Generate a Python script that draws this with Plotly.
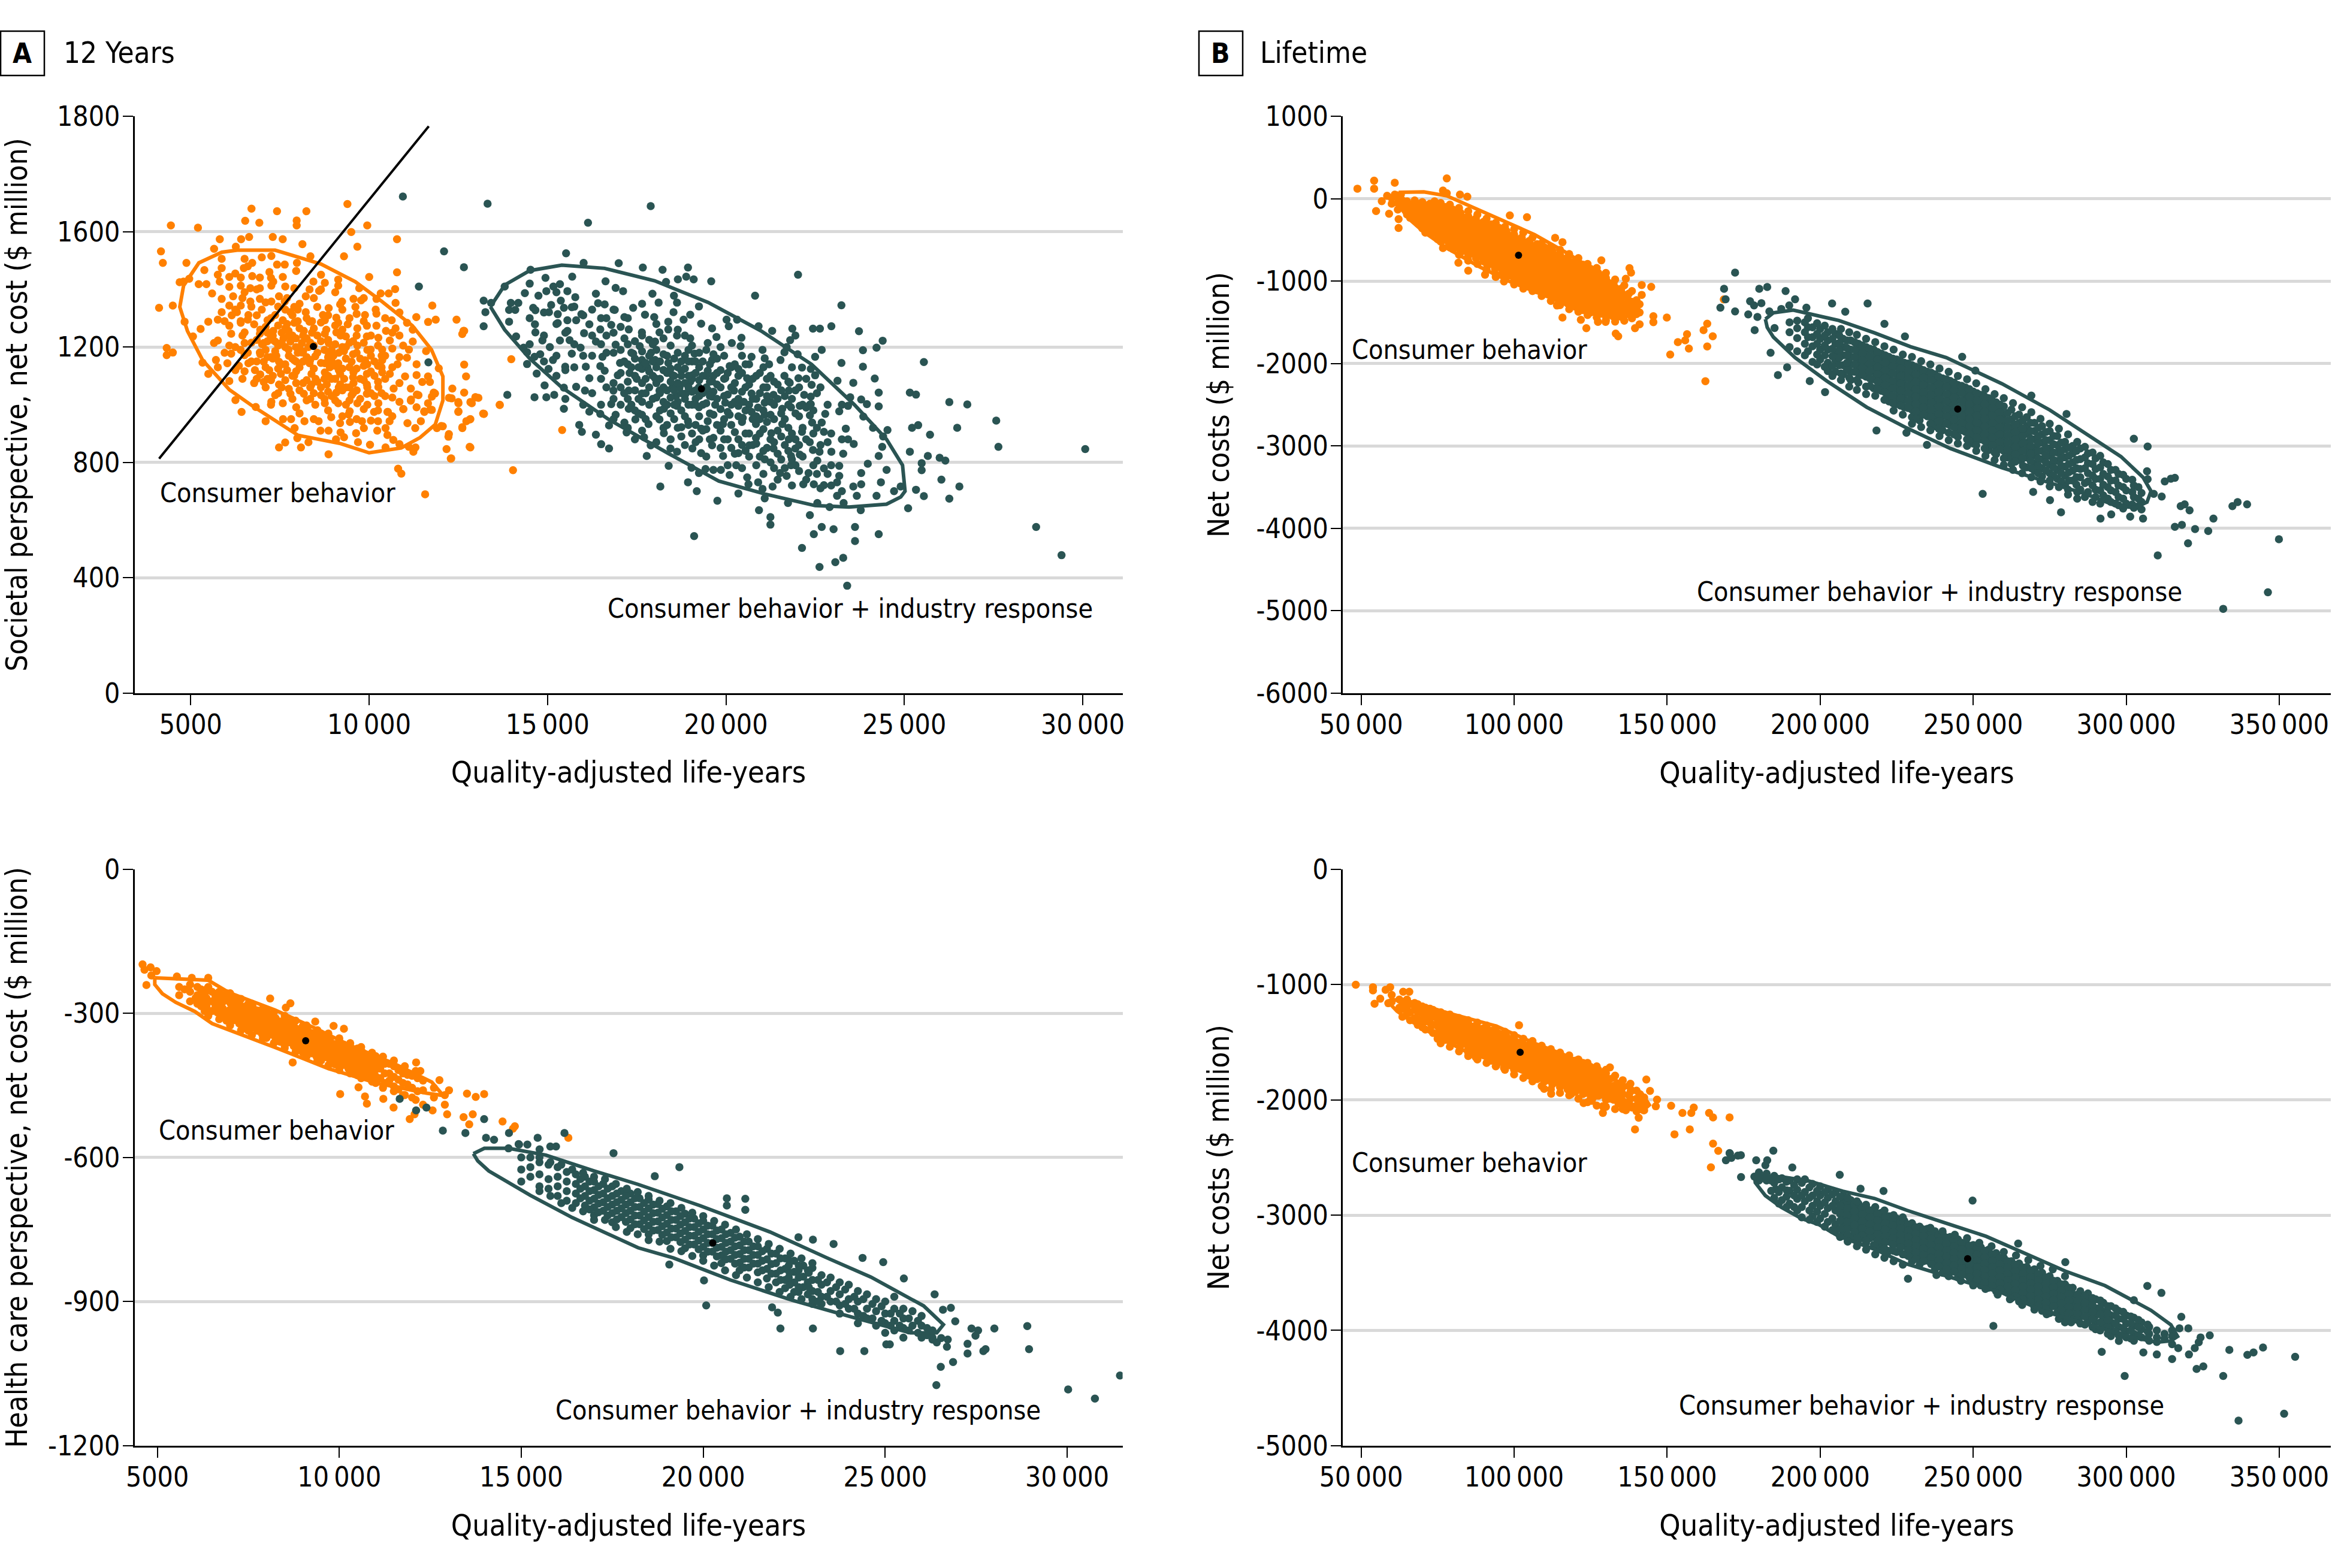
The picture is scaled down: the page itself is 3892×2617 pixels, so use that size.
import plotly.graph_objects as go

# Each row is (x, y1, y2, ...): one QALY value and the
# cost values of the dots above it.
ORANGE = "#FF8000"
TEAL = "#2A5453"

# panel A top, societal perspective (the axis labels run 1600 -> 1800, drawn as printed)
a_top_orange = [
    (4444,1622),(5203,1614),(4166,1532),(4219,1492),(4113,1336),(4498,1344),(4327,1197),(4498,1181),(4327,1172),
    (6703,1680),(7419,1671),(8242,1671),(6527,1638),(6923,1631),(7970,1639),(7970,1622),(9392,1696),(9948,1622),
    (9499,1599),(10782,1574),(9670,1548),(9296,1515),(8131,1557),(8355,1515),(5815,1574),(6413,1574),(6637,1582),
    (7300,1582),(7578,1574),(5655,1541),(6264,1548),(10782,1459),(10002,1443),(4880,1492),(5382,1467),(10729,1401),
    (10548,1386),(10324,1386),(11771,1344),(11323,1304),(11867,1295),(11654,1287),(12450,1295),(12664,1256),
    (12611,1245),(12664,1139),(12717,1098),(12332,1056),(12664,1042),(12985,1026),(12504,1005),(12878,1005),
    (13220,968),(13659,1000),(12504,977),(12825,949),(12611,922),(12022,926),(12236,898),
    (12645,1256),(13984,1158),(15410,912),(14033,773),(12976,1026),(13197,969),(12817,854),(12300,814),
    (6425,975),(6253,1016),(7100,943),(7588,950),(7813,950),(6823,992),(7475,852),(7648,869),(8090,852),(8300,870),
    (7988,884),(7913,919),(8188,943),(8585,943),(8638,910),(8863,828),(9073,880),(8863,910),(8938,957),(9298,887),
    (9200,904),(9185,936),(9463,940),(9635,901),(9688,870),(10025,861),(9853,919),(9800,943),(10228,910),(10460,919),
    (10513,895),(10678,878),(10460,852),(10850,863),(11113,854),(11240,837),(11300,852),(10813,778),(10903,761),
    (11570,689),(12290,813),(12170,846),(12838,852),(12223,889),(12065,925),(11900,919),(12613,919),(11293,919),
    (11075,936),(11450,943),(10963,985),(10573,943),(10513,975),(11548,975),(11713,983),(12500,975),(12725,943),
    (12838,950),(13213,968),(13663,999),(13063,1024),(12838,1009),(12500,1009),(12313,1022),(11848,1039),(11173,1018),
    (11338,1035),(9425,966),(10138,975),(10250,943),
    (5868,1506),(6510,1506),(6724,1492),(6992,1511),(7260,1516),(7420,1486),(7635,1486),(7977,1492),(7956,1464),
    (6489,1474),(5868,1474),(5760,1451),(6082,1443),(5814,1427),(6403,1441),(6724,1446),(6938,1441),(7206,1460),
    (7581,1443),(7313,1427),(8652,1451),(9134,1434),(8759,1423),(8438,1427),(9134,1413),(4797,1427),(4958,1437),
    (5225,1418),(5439,1418),(4690,1425),(6082,1409),(6403,1413),(6938,1404),(7260,1413),(5600,1386),(5868,1367),
    (6189,1376),(6510,1390),(6671,1404),(7474,1376),(7902,1404),(8224,1376),(8599,1395),(8331,1400),(9723,1404),
    (9562,1367),(9777,1362),(10205,1367),(9241,1358),(10741,1353),(6082,1344),(6403,1344),(6671,1358),(6938,1367),
    (7260,1358),(7635,1358),(7902,1339),(8545,1339),(8867,1335),(9188,1348),(9616,1339),(10184,1330),(5868,1321),
    (6296,1321),(6617,1311),(6992,1330),(7367,1311),(7795,1321),(8224,1321),(8706,1311),(9081,1302),(9884,1311),
    (10205,1316),(10633,1293),(11062,1284),(11223,1260),(5493,1288),(5760,1295),(4829,1288),(5278,1263),(5064,1237),
    (5653,1214),(5760,1223),(6082,1274),(6403,1284),(6778,1279),(7153,1293),(7581,1293),(7902,1284),(8331,1288),
    (8759,1293),(9134,1284),(9402,1279),(9670,1265),(9937,1274),(10205,1274),(10473,1256),(10741,1265),(6135,1246),
    (6510,1251),(6938,1246),(7313,1256),(7742,1256),(8170,1256),(8759,1246),(9081,1251),(9348,1237),(9937,1237),
    (10259,1232),(10580,1223),(6082,1205),(6510,1214),(7046,1214),(7367,1219),(7795,1219),(8117,1214),(8867,1214),
    (9295,1186),(9670,1205),(10044,1191),(10366,1191),(10955,1205),(11223,1219),(11116,1191),(11597,1186),(6135,1177),
    (6510,1172),(6938,1181),(7367,1186),(7742,1191),(8117,1181),(8492,1168),(8867,1181),(5707,1155),(5332,1146),
    (5760,1130),(6028,1144),(6349,1135),(6617,1144),(7046,1149),(7474,1149),(7902,1154),(8331,1144),(8759,1144),
    (9134,1144),(9509,1149),(9884,1154),(10366,1154),(10794,1140),(11062,1163),(11330,1140),(11952,1126),(5493,1107),
    (6082,1082),(6510,1116),(6778,1075),(7046,1079),(7528,1107),(7956,1116),(8385,1107),(8759,1112),(9188,1107),
    (9562,1112),(9937,1107),(10366,1112),(10580,1107),(11008,1098),(11330,1103),(11651,1098),(11704,1079),(7474,1070),
    (7956,1075),(8385,1070),(8813,1070),(9188,1070),(9562,1075),(9937,1070),(10259,1061),(10687,1056),(11169,1056),
    (11490,1079),(11811,1042),(7367,1033),(7795,1038),(8170,1038),(8652,1033),(9081,1042),(9509,1033),(9937,1038),
    (11169,1014),(11383,1033),(11758,1028),(11651,1005),(7260,1010),(7581,1005),(7956,991),(8492,1000),(8759,1005),
    (9134,1005),(9670,1005),(10259,1005),(11330,991),(11758,982),(11544,977),(9455,977),(10527,975),(10955,985),
    (12238,1024),(7000,1210),(7400,1170),(7700,1120),(8000,1180),(7200,1120),(7600,1230),(8500,1090),(8900,1130),
    (9300,1090),(9000,1170),(7150,1165),(6800,1120),(7300,1240),(8300,1200),(7900,1100),
]
a_top_orange_fill = [
    (5950,1180,1290),(6250,1120,1200,1330,1455),(6450,1090,1240,1370),(6600,1180,1295,1480),(6850,1090,1150,1225,1310,1400),
    (7100,1060,1130,1190,1270,1355),(7250,1000,1085,1165,1235,1300,1440),(7450,1040,1125,1205,1275,1340),
    (7650,1085,1140,1200,1265,1330,1410),(7850,1020,1100,1160,1240,1310),(8050,970,1050,1130,1195,1265,1350),
    (8250,1015,1085,1165,1230,1300),(8450,950,1040,1125,1205,1265,1370),(8650,1060,1145,1220,1285,1400),
    (8850,980,1045,1100,1165,1225,1310),(9050,1015,1090,1135,1210,1275,1390),(9250,960,1050,1125,1200,1260,1330),
    (9450,1015,1060,1130,1215,1300),(9650,950,1050,1125,1180,1240,1315),(9850,985,1085,1135,1215,1290,1370),
    (10050,945,1040,1115,1170,1240),(10250,980,1080,1135,1205),(10450,1030,1090,1170,1300),(10650,960,1025,1130,1195,1250),
    (10850,1010,1075,1165,1240,1320),
    (7300,1100,1160,1225),(7550,1060,1140,1215,1250),(7750,1055,1170,1240),(7950,1150,1200,1230),(8150,1075,1150,1185,1240),
    (8350,1020,1060,1155,1215),(8550,1080,1180,1240),(8750,1020,1090,1190),(8950,1030,1090,1150,1190),(9150,1060,1120,1180),
    (9350,1000,1060,1160,1200),(9550,1040,1095,1175),(9750,1020,1090,1160),(9950,1000,1060,1140,1190),(10150,1030,1100,1150),
    (10350,1040,1130,1170),(6950,1105,1175,1260),(7150,1090,1220,1250),(6700,1150,1215,1340),(6400,1190,1290),(6150,1310),
    (7700,1280,1370),(8000,1290,1330),(8400,1250,1290),(8800,1260),(9200,1240),(9550,1220),
]
a_top_teal = [
    (13320,1697),(17892,1689),(16135,1631),(15520,1525),(12657,1477),(22021,1451),(20817,1378),(23237,1345),
    (10946,1722),(12100,1532),(11395,1410),(11662,1147),
    (23729,1255),(24393,1222),(25548,1148),(24221,1198),(23840,1189),(23840,1132),(24171,1091),(24282,1042),
    (25155,1042),(25327,1035),(26261,1009),(26765,1001),(27576,945),(26482,920),(25388,929),(25216,920),(25720,896),
    (27637,854),(30070,846),(25155,837),(25659,822),(25990,816),(26150,806),(25486,797),(25486,773),(26039,740),
    (26543,716),(26261,674),(25327,705),(25548,683),(25106,641),(28694,576),(29406,478),
    (24282,551),(23618,576),(23618,527),(23017,568),(22685,576),(22463,551),(22132,503),(23287,469),(23066,454),
    (22623,437),(23398,372),(19109,544),(21247,610),(21247,584),(20927,634),(22353,617),(19760,667),(18162,716),(23779,634),
    (13210,1361),(13210,1272),(13259,1321),(13419,1353),(13873,1034),(14635,1026),(13800,1410),(14525,1468),
    (14943,1440),(15348,1418),(15164,1410),(14967,1394),(14365,1387),(14746,1378),(15557,1394),(15778,1373),(15373,1361),
    (13972,1353),(14181,1353),(13923,1329),(14095,1329),(14598,1336),(14660,1328),(15102,1346),(15041,1321),(15459,1336),
    (15680,1338),(15287,1314),(15950,1314),(13923,1288),(14648,1279),(15287,1283),(15557,1293),(15803,1293),(16172,1279),
    (14660,1251),(14120,1237),(14857,1223),(15348,1223),(15557,1256),(16024,1248),(15619,1224),(16356,1385),(16417,1352),
    (16602,1348),(16626,1428),(16909,1405),(17118,1394),(17671,1476),(18224,1468),(18937,1476),(16995,1491),(16012,1492),
    (15692,1444),(18654,1435),(18887,1444),(19096,1435),(19588,1428),(18322,1426),(17941,1385),(18543,1378),(18113,1354),
    (18629,1354),(16884,1329),(17400,1336),(17732,1312),(17155,1304),(17990,1304),(18531,1321),(19244,1341),(19000,1312),
    (18814,1295),(19306,1281),(20018,1295),(20313,1295),(20080,1272),(19612,1265),(20915,1272),(21296,1256),(21861,1264),
    (22439,1264),(22635,1264),(22955,1272),(21947,1240),(21800,1224),(22685,1190),(22500,1166),(21702,1200),(21640,1182),
    (22009,1175),(21530,1155),(21026,1190),(20718,1166),(21087,1161),(21210,1140),(20436,1232),(20165,1214),(20411,1203),
    (19735,1235),(19490,1214),(19000,1230),(18629,1240),(18384,1288),(18384,1261),(18138,1251),(17646,1251),(17277,1261),
    (16786,1277),(16479,1261),(16356,1219),(16909,1208),(17155,1230),(17585,1203),(18015,1219),(15926,1198),(15680,1177),
    (15065,1200),(14329,1198),(14427,1182),(14795,1175),(14635,1166),(15152,1155),(14427,1141),(15029,1124),(15496,1132),
    (16073,1132),(14697,1108),(16540,1166),(16479,1134),(16172,1092),(14918,1067),(15459,1059),(15803,1062),(16049,1049),
    (15188,1034),(14967,1026),(15459,986),(16172,976),(16479,968),(15889,930),(15963,906),(16356,896),(16724,928),
    (16503,863),(16724,848),(17781,822),(18396,788),(19035,781),(18937,731),(19183,700),(19244,763),(19649,774),(20350,692),
    (21087,675),(21739,659),(22562,659),(22906,645),(23299,659),(23115,684),(23668,684),(24221,684),(24712,700),(24897,716),
    (24344,731),(23791,724),(23570,716),(24503,774),(24282,822),(23791,763),(23976,795),(23287,830),(23176,788),(23176,753),
    (23115,731),(22746,721),(22463,724),(22169,724),(21825,790),(21702,753),(21517,763),(21308,716),(21026,708),(20903,731),
    (20595,748),(20632,724),(20104,756),(19858,774),(19428,777),
    (23582,864),(22955,837),(23360,917),(23422,880),(24122,920),(24405,890),(24528,912),(24380,854),(23852,959),(23422,996),
    (23176,977),(22783,968),(23951,1002),(24282,994),(23791,1018),(23484,1026),(23127,1083),(23570,1076),(23238,1145),
    (22402,1069),(22033,1092),(21788,1076),(21640,1100),(22378,1124),(22132,1129),(22500,1102),(22193,1034),(22378,1028),
    (22378,1002),(22070,996),(21825,991),(21579,986),(21333,1034),(21148,1060),(21763,1049),(22353,963),(22685,938),
    (22415,938),(22746,906),(22132,906),(21579,933),(21271,901),(21763,880),(21947,848),(21333,848),(20841,885),(20657,859),
    (21087,811),(22439,843),(22623,837),(22562,806),(22746,779),(22316,763),(22070,827),(21825,822),(20350,832),(20288,790),
    (19920,822),(19612,859),(19306,832),(19060,848),(18629,837),(18445,848),(17892,859),(17707,887),(17216,904),(17155,938),
    (17462,949),(17830,933),(18261,901),(18752,922),(19490,943),(19920,933),(20841,933),(20472,954),(20104,965),(19306,917),
    (18937,943),(18138,949),(16909,965),(16786,1002),(17277,986),(17646,965),(18261,986),(18629,996),(19244,991),(19612,1028),
    (19981,1007),(20350,996),(20718,975),(21087,965),(16847,1049),(16970,1102),(17277,1049),(17646,1039),(18138,1049),
    (18506,1060),(18875,1039),(19244,1060),(19612,1081),(19981,1092),(20227,1049),(20595,1092),(20718,1039),(21087,1007),
    (20104,1134),(19612,1155),(19121,1177),(18752,1118),(18384,1145),(18015,1092),(17646,1124),(17400,1177),(17032,1145),
    (16602,1118),(17646,1155),(18015,1155),(18506,1102),(19060,1102),(19490,1118),(20350,1124),
    (17300,1110),(17500,1090),(17800,1130),(17900,1180),(18250,1120),(18700,1060),(19000,1080),(19150,1020),(18950,1000),
    (18600,1030),(19500,1050),(19700,1000),(20500,1010),(20900,990),
]
a_top_teal_fill = [
    (15250,1100,1170,1280,1390),(15750,1130,1210,1340),(16250,1040,1170,1240,1330),(16650,1060,1180,1240,1300),
    (16850,950,1020,1075,1180,1250,1330),(17050,1000,1060,1110,1190,1270),(17250,920,1020,1080,1140,1210,1300),
    (17450,880,980,1050,1100,1160,1220),(17650,910,1010,1075,1135,1185,1240,1350),(17850,1000,1060,1115,1170,1225),
    (18050,870,960,1025,1075,1130,1190,1280),(18250,920,1010,1060,1120,1175,1230),(18450,880,970,1025,1080,1125,1205),
    (18650,920,1010,1075,1130,1180,1260),(18850,860,960,1020,1075,1125,1170,1240),(19050,900,1000,1045,1090,1150,1205),
    (19250,880,960,1030,1085,1130,1180),(19450,820,915,1005,1060,1100,1190),(19650,885,965,1045,1100,1175),
    (19850,850,910,985,1060,1120,1200),(20050,790,880,975,1035,1110),(20250,830,905,1010,1075,1140),
    (20450,780,860,940,1045,1110,1170),(20650,820,900,1000,1070,1140),(20850,790,865,960,1020,1100),
    (21050,760,840,915,980,1060,1130),(21250,800,880,965,1010,1100),(21450,740,830,910,1020,1070),(21650,780,860,950,1030),
    (21850,720,810,900,1020,1130),(22050,770,860,960,1060),(22250,740,880,990,1090),(22450,790,900,980),(22650,710,860,1060),
    (22950,720,790,900),(23250,700,880,1000),
    (17150,1040,1150),(17350,1000,1130,1180),(17550,970,1020,1130),(17750,950,1040,1090,1145),(17950,1020,1100,1150,1210),
    (18150,980,1040,1090,1150),(18350,930,1000,1050,1110,1170),(18550,950,1000,1050,1100,1160),(18750,890,980,1040,1100,1150),
    (18950,930,1060,1100,1150,1190),(19150,870,930,1000,1050,1110,1150),(19350,910,1000,1040,1100,1150),(19550,880,970,1030,1080,1140),
    (19750,930,1020,1070,1110,1160),(19950,880,950,1030,1090,1170),(20150,850,930,1000,1060,1130),(20350,880,960,1020,1100),
    (20550,840,900,980,1060,1140),(20750,860,950,1020,1090),(20950,820,900,950,1040,1110),(21150,850,940,1030,1090),
    (21350,780,870,950,1000,1080),(21550,810,890,970,1050),(21750,840,920,1000,1080),(21950,790,880,970,1050),(22150,820,920,1000),
    (22350,870,1000),(22550,760,920,1040),(22850,760,870,1000),(16500,1000,1090,1210,1300),(16000,1000,1170,1310),(15500,1020,1120,1250),
    (14900,1150,1240,1320),(14500,1210,1300,1420),
]
a_top_orange_ring = [
    (6304,1536),(7367,1536),(8647,1488),(9609,1427),(10358,1358),(11213,1274),(11747,1191),(12068,1098),(12068,1015),
    (11854,931),(11427,886),(10900,850),(10000,833),(9200,865),(8007,894),(6726,996),(6085,1052),(5336,1154),(4908,1256),
    (4694,1339),(4800,1413),(5228,1492),(5870,1529),(6304,1536),
]
a_top_teal_ring = [
    (13400,1340),(13800,1415),(14500,1465),(15400,1484),(16600,1473),(18000,1430),(19500,1355),(21000,1255),(22400,1140),
    (23600,1000),(24500,880),(24950,790),(25020,700),(24900,680),(24500,655),(23450,645),(22500,650),(21100,690),(19800,735),
    (18400,830),(16700,950),(15400,1060),(14500,1160),(13800,1260),(13400,1340),
]
a_top_line_x = [4115, 11672]
a_top_line_y = [813, 1966]
a_top_means = [(8438,1202), (19314,1055)]

# panel A bottom, health care perspective
a_bot_orange = [
    (4594,-198),(4647,-209),(4814,-204),(4980,-212),(4700,-241),(4835,-221),(5538,-223),(6399,-226),(5947,-226),(8100,-269),
    (8656,-279),(8530,-288),(9339,-317),(9843,-326),(10127,-332),(12111,-402),(12227,-420),(12752,-439),(13015,-460),
    (13509,-467),(13980,-468),(13749,-474),(10024,-468),(10528,-454),(10706,-473),(10758,-488),(11210,-478),(11491,-496),
    (8719,-402),(11935,-520),(12068,-510),(12563,-502),(12963,-510),(13415,-516),(13667,-510),(13570,-531),(14486,-525),
    (14824,-535),(14772,-540),(16294,-559),
    (5600,-245,-262),(5900,-240,-255,-275),(6200,-250,-270,-285),(6500,-255,-275,-295),(6800,-262,-276,-290,-305),
    (7000,-264,-278,-292,-306,-320),(7250,-279,-293,-307,-321),(7500,-280,-294,-308,-322,-336),(7750,-294,-308,-322,-336),
    (8000,-295,-309,-323,-337,-351),(8250,-310,-324,-338,-352),(8500,-311,-325,-339,-353,-367),(8750,-326,-340,-354,-368),
    (9000,-326,-340,-354,-368,-382),(9250,-341,-355,-369,-383),(9500,-342,-356,-370,-384,-398),(9750,-357,-371,-385,-399),
    (10000,-358,-372,-386,-400,-414),(10250,-373,-387,-401,-415),(10500,-373,-387,-401,-415,-429),(10750,-388,-402,-416,-430),
    (11000,-389,-403,-417,-431,-445),(11250,-405,-425,-445),(11500,-410,-432,-452),(11750,-425,-445,-470),(12000,-430,-455,-475),
    (12300,-440,-460,-490),(12600,-455,-475),(12900,-470,-490),
]
a_bot_orange_fill = [
    (6100,-245,-262,-280),(6350,-250,-268,-285),(6650,-258,-272,-298),(6900,-258,-272,-300,-315),(7125,-272,-286,-300,-314),
    (7375,-286,-300,-314,-328),(7625,-287,-301,-315,-329),(7875,-301,-315,-329,-343),(8125,-302,-316,-330,-344),
    (8375,-317,-331,-345,-359),(8625,-318,-332,-346,-360),(8875,-333,-347,-361,-375),(9125,-333,-347,-361,-375),
    (9375,-348,-362,-376,-390),(9625,-349,-363,-377,-391),(9875,-364,-378,-392,-406),(10125,-365,-379,-393,-407),
    (10375,-380,-394,-408,-422),(10625,-380,-394,-408,-422),(10875,-395,-409,-423,-437),(11125,-400,-415,-435),
    (11375,-405,-425,-440),(11625,-418,-438,-458),(11875,-428,-448),(12150,-435,-462),
    (6400,-245,-305),(6700,-255,-312),(7000,-258,-325),(7300,-270,-335),(7600,-280,-345),(7900,-290,-352),(8200,-298,-362),
    (8500,-305,-372),(8800,-315,-380),(9100,-325,-390),(9400,-335,-398),(9700,-342,-408),(10000,-352,-418),(10300,-362,-425),
    (10600,-370,-435),(10900,-382,-442),(11200,-390,-455),(11500,-398,-462),(11800,-410,-470),(12100,-420,-480),
    (5750,-250),(6050,-268),(6600,-265,-285),(6750,-285,-300),(6300,-260,-278,-295),
]
a_bot_teal = [
    (11659,-478),(12111,-502),(12394,-496),(12845,-544),(13465,-549),(13980,-520),(14032,-559),(14252,-563),(14662,-549),
    (15450,-559),(14938,-573),(15168,-573),(15504,-583),(16187,-549),(15798,-577),(15955,-577),(14928,-572),(14650,-581),
    (17535,-591),(19345,-620),(18669,-639),(20649,-685),(21156,-686),(20649,-700),(21156,-709),(20082,-908),(20021,-856),
    (19068,-823),(21892,-912),(22049,-923),(22121,-956),(23014,-956),(23763,-1003),(24427,-1003),(25030,-989),(25127,-989),
    (26358,-885),(25513,-852),(26805,-913),(26587,-917),(26925,-941),(27372,-956),(27553,-960),(27481,-971),(28000,-956),
    (28904,-951),(28953,-999),(27263,-988),(27263,-1008),(27758,-999),(27697,-1003),(26865,-1026),(26527,-1036),(26406,-1074),
    (30027,-1083),(30763,-1102),(31451,-1054),(24378,-809),(24946,-818),(23582,-780),(23014,-771),(22616,-766),(26696,-994),
    (26298,-979),(26539,-976),(26720,-979),(26418,-985),
    (15000,-600,-625,-650),(15250,-600,-620,-640),(15500,-610,-635,-660),(15750,-615,-645,-665),(16000,-620,-640,-660,-680),
    (16250,-630,-650,-670,-690),(16500,-635,-655,-675,-695),(16750,-640,-660,-680,-700),(17000,-650,-668,-686,-704,-720),
    (17250,-655,-675,-693,-711),(17500,-660,-680,-698,-716,-735),(17750,-670,-688,-706,-724),(18000,-675,-693,-711,-729,-747),
    (18250,-685,-703,-721,-739),(18500,-688,-706,-724,-742,-760),(18750,-697,-715,-733,-751),(19000,-702,-720,-738,-756,-774),
    (19250,-712,-730,-748,-766),(19500,-717,-735,-753,-771,-789),(19750,-727,-745,-763,-781),(20000,-732,-750,-768,-786,-804),
    (20250,-742,-760,-778,-796),(20500,-750,-768,-786,-804,-820),(20750,-757,-775,-793,-811),(21000,-765,-783,-801,-819,-835),
    (21250,-775,-793,-811,-829),(21500,-785,-803,-821,-839),(21750,-790,-812,-832,-852),(22000,-800,-820,-842,-860),
    (22250,-810,-832,-855,-872),(22500,-815,-838,-860,-880),(22750,-825,-848,-870),(23000,-830,-855,-878,-895),
    (23250,-845,-865,-890,-905),(23500,-850,-878,-900),(23750,-860,-885,-908,-925),(24000,-865,-895,-915),
    (24250,-878,-900,-925,-945),(24500,-885,-915,-935),(24750,-895,-920,-950),(25000,-900,-925,-945,-965),
    (25250,-890,-915,-940,-960),(25500,-915,-935,-955,-975),(25750,-920,-950),(26000,-930,-950,-975),(26300,-960,-975),
]
a_bot_teal_fill = [
    (16625,-645,-665,-685),(16875,-650,-670,-690,-708),(17125,-660,-678,-696,-714),(17375,-665,-685,-703,-721),
    (17625,-675,-693,-711,-729),(17875,-680,-698,-716,-734),(18125,-685,-703,-721,-739),(18375,-695,-713,-731,-749),
    (18625,-698,-716,-734,-752),(18875,-707,-725,-743,-761),(19125,-712,-730,-748,-766),(19375,-722,-740,-758,-776),
    (19625,-727,-745,-763,-781),(19875,-737,-755,-773,-791),(20125,-742,-760,-778,-796),(20375,-752,-770,-788,-806),
    (20625,-760,-778,-796,-812),(20875,-767,-785,-803,-821),(21125,-775,-793,-811,-829),(21375,-785,-803,-821),
    (21625,-795,-815,-835),(21875,-800,-822,-842),(22125,-810,-835,-855),(22375,-815,-840,-865),(22625,-825,-850,-870),
    (22875,-835,-860,-885),
    (15500,-600,-670),(15800,-610,-680),(16100,-615,-695),(16400,-625,-705),(16700,-632,-712),(17000,-640,-730),(17300,-645,-730),
    (17600,-655,-745),(17900,-665,-755),(18200,-672,-760),(18500,-680,-772),(18800,-690,-775),(19100,-695,-790),(19400,-705,-795),
    (19700,-715,-805),(20000,-722,-815),(20300,-732,-825),(20600,-740,-835),(20900,-750,-845),(21200,-760,-850),(21500,-770,-860),
    (21800,-780,-870),(22100,-790,-880),(22400,-800,-890),(22700,-810,-895),(23000,-820,-905),
    (22350,-825,-850),(22620,-835,-880),(22900,-840,-870),(23150,-855,-880,-900),(23400,-860,-890),(23650,-870,-900),(23900,-875,-905),
    (24150,-890,-915),(24400,-895,-930),(24650,-905,-935),(24900,-910,-940),(25150,-925,-950),(25400,-925,-950),(25650,-935,-960),
    (25900,-940,-965),(26150,-955,-970),
]
a_bot_orange_ring = [
    (4930,-226),(6399,-231),(6977,-257),(8236,-293),(9286,-329),(10336,-368),(11491,-404),(12541,-443),(12856,-471),(12400,-466),
    (11071,-446),(9706,-415),(8236,-371),(7186,-340),(6505,-321),(6031,-296),(5506,-277),(5138,-259),(4930,-240),(4930,-226),
]
a_bot_teal_ring = [
    (13684,-592),(13986,-581),(14650,-581),(15676,-595),(17004,-628),(18211,-656),(19900,-700),(21832,-755),(23400,-809),(24608,-849),
    (26057,-909),(26600,-948),(26418,-965),(25694,-965),(24125,-933),(22435,-897),(20745,-855),(19176,-809),(18211,-788),(16400,-725),
    (15253,-679),(14107,-628),(13805,-607),(13684,-592),
]
a_bot_means = [(9076,-357), (20262,-778)]

# panel B top, lifetime societal
b_top_orange = [
    (48800,123),(54260,221),(54260,123),(61000,195),(78000,247),(54900,-149),(59150,-182),(62250,-247),(62250,-354),(56760,-29),
    (58500,36),(61000,52),(63000,52),(76750,100),(78000,68),(82300,52),(84700,26),(98600,-201),(104200,-224),(113400,-474),
    (115800,-526),(128500,-747),(137700,-841),(138200,-896),(136500,-971),(141700,-1046),(144800,-1068),(141700,-1166),
    (149900,-1442),(145500,-1425),(145500,-1497),(141000,-1523),(139500,-1571),(134000,-1669),(133200,-1636),(123600,-1571),
    (115800,-1442),(121800,-1468),(127400,-1494),(129900,-1494),(151000,-1890),(153500,-1740),(155900,-1718),(156500,-1643),
    (157100,-1818),(161900,-1594),(163100,-1516),(164900,-1669),(163100,-1792),(162500,-2214),(168500,-1221),(76750,-597),
    (81800,-776),(85000,-873),(90500,-922),(94000,-948),(96700,-1003),(114000,-1295),
    (60000,10,-60),(62000,30,-50,-130),
    (65000,-30,-110,-190),(67500,-20,-100,-180,-250),(70000,-40,-120,-200,-280,-360),(72500,-60,-140,-220,-300,-380),
    (75000,-90,-170,-250,-330,-410,-490),(77500,-100,-180,-260,-340,-420,-500),(80000,-130,-210,-290,-370,-450,-530,-610),
    (82500,-170,-250,-330,-410,-490,-570,-650),(85000,-210,-290,-370,-450,-530,-610,-690),(87500,-240,-320,-400,-480,-560,-640,-720),
    (90000,-280,-360,-440,-520,-600,-680,-760),(92500,-310,-390,-470,-550,-630,-710,-790),(95000,-350,-430,-510,-590,-670,-750,-830),
    (97500,-390,-470,-550,-630,-710,-790,-870),(100000,-430,-510,-590,-670,-750,-830,-910,-990),
    (102500,-470,-550,-630,-710,-790,-870,-950,-1030),(105000,-510,-590,-670,-750,-830,-910,-990,-1060),
    (107500,-550,-630,-710,-790,-870,-950,-1030,-1110),(110000,-590,-670,-750,-830,-910,-990,-1070,-1150),
    (112500,-630,-710,-790,-870,-950,-1030,-1110,-1180),(115000,-680,-760,-840,-920,-1000,-1080,-1160,-1230),
    (117500,-710,-790,-870,-950,-1030,-1110,-1190,-1270),(120000,-760,-840,-920,-1000,-1080,-1160,-1240,-1310),
    (122500,-800,-880,-960,-1040,-1120,-1200,-1280,-1350),(125000,-850,-930,-1010,-1090,-1170,-1250,-1330,-1380),
    (127500,-900,-980,-1060,-1140,-1220,-1300,-1380),(130000,-960,-1040,-1120,-1200,-1280,-1360,-1420),
    (132500,-1030,-1110,-1190,-1270,-1350,-1430),(135000,-1090,-1170,-1250,-1330,-1410),(137500,-1150,-1240,-1320,-1400),
    (140000,-1230,-1320,-1400),
]
b_top_orange_fill = [
    (76250,-130,-210,-290,-370,-450),(78750,-150,-230,-310,-390,-470,-550),(81250,-190,-270,-350,-430,-510,-590),
    (83750,-230,-310,-390,-470,-550,-630),(86250,-260,-340,-420,-500,-580,-660),(88750,-300,-380,-460,-540,-620,-700),
    (91250,-330,-410,-490,-570,-650,-730,-810),(93750,-370,-450,-530,-610,-690,-770,-850),(96250,-410,-490,-570,-650,-730,-810,-890),
    (98750,-450,-530,-610,-690,-770,-850,-930),(101250,-490,-570,-650,-730,-810,-890,-970),(103750,-530,-610,-690,-770,-850,-930,-1010),
    (106250,-570,-650,-730,-810,-890,-970,-1050),(108750,-610,-690,-770,-850,-930,-1010,-1090),(111250,-650,-730,-810,-890,-970,-1050,-1130),
    (113750,-690,-770,-850,-930,-1010,-1090,-1170),(116250,-730,-810,-890,-970,-1050,-1130,-1210),(118750,-770,-850,-930,-1010,-1090,-1170,-1250),
    (121250,-820,-900,-980,-1060,-1140,-1220,-1300),(123750,-860,-940,-1020,-1100,-1180,-1260,-1340),(126250,-920,-1000,-1080,-1160,-1240,-1320),
    (128750,-980,-1060,-1140,-1220,-1300,-1380),(131250,-1060,-1140,-1220,-1300,-1380),(133750,-1130,-1210,-1290,-1370),
    (63500,-20,-90),(66000,-70,-150,-230),(68500,-60,-140,-220,-300),(71000,-80,-160,-240,-320,-410),(73500,-100,-180,-260,-340,-420),
    (74000,-30,-60),(76000,-50,-520),(79000,-70,-590),(82000,-110,-680),(85000,-150,-750),(88000,-190,-790),(91000,-240,-860),
    (94000,-290,-920),(97000,-340,-960),(100000,-370,-1040),(103000,-410,-1090),(106000,-470,-1120),(109000,-540,-1180),(112000,-580,-1240),
    (115000,-620,-1290),(118000,-670,-1340),(121000,-720,-1370),(124000,-790,-1410),(127000,-840,-1440),(130000,-900,-1470),(133000,-980,-1490),
    (136000,-1050,-1480),(138500,-1120,-1250,-1360,-1450),(141000,-1280,-1380),(128000,-1000,-1180,-1340),(133000,-1080,-1160,-1240,-1320,-1400),
    (135000,-1130,-1210,-1290,-1370),(137000,-1190,-1280,-1360),
]
b_top_teal = [
    (172200,-896),(168600,-1093),(180100,-1093),(182700,-1070),(188700,-1120),(169100,-1220),(167400,-1321),(172200,-1367),
    (177100,-1244),(180800,-1267),(178400,-1294),(176500,-1404),(179500,-1434),(178600,-1594),(183400,-1367),(187300,-1337),
    (189900,-1294),(191800,-1220),(195500,-1321),(203900,-1270),(208200,-1371),(215500,-1270),(221000,-1518),(227700,-1671),
    (185100,-1568),(183800,-1868),(189200,-2045),(186200,-2139),(196600,-2212),(201600,-2346),(246400,-1918),(250700,-2085),
    (269000,-2389),(280500,-2613),(218400,-2813),(228200,-2840),(234900,-2987),(253100,-3581),(269600,-3558),(275100,-3658),
    (278700,-3805),(291600,-3882),(302500,-2913),(307000,-3007),(306800,-3307),(307000,-3404),(312600,-3431),(314600,-3397),
    (315900,-3387),(309000,-3581),(311600,-3614),(317800,-3731),(319100,-3708),(320700,-3781),(328500,-3881),(334700,-3731),
    (336400,-3681),(339500,-3708),(315900,-3982),(318200,-3958),(322500,-4008),(326800,-4032),(320200,-4182),(310300,-4329),
    (349900,-4132),(346300,-4776),(331700,-4977),(305500,-3882),(301300,-3858),(295100,-3831),
    (190000,-1500,-1620,-1800),(192500,-1480,-1570,-1690,-1850),(195000,-1500,-1620,-1760,-1900),(197500,-1560,-1680,-1790,-1980),
    (200000,-1580,-1700,-1830,-1950),(202500,-1620,-1720,-1830,-1990,-2090),(205000,-1640,-1760,-1860,-1960,-2100),
    (207500,-1700,-1800,-1900,-2020,-2130),(210000,-1720,-1830,-1920,-2010,-2100,-2200),(212500,-1760,-1850,-1940,-2030,-2120,-2230),
    (215000,-1800,-1890,-1980,-2070,-2160,-2280),(217500,-1830,-1920,-2010,-2100,-2190,-2300),(220000,-1880,-1970,-2060,-2150,-2240,-2330),
    (222500,-1920,-2010,-2100,-2190,-2280,-2370,-2460),(225000,-1950,-2040,-2130,-2220,-2310,-2400,-2490),
    (227500,-1990,-2080,-2170,-2260,-2350,-2440,-2530),(230000,-2020,-2110,-2200,-2290,-2380,-2470,-2560,-2650),
    (232500,-2060,-2150,-2240,-2330,-2420,-2510,-2600,-2690),(235000,-2100,-2190,-2280,-2370,-2460,-2550,-2640),
    (237500,-2130,-2220,-2310,-2400,-2490,-2580,-2670,-2760),(240000,-2180,-2270,-2360,-2450,-2540,-2630,-2720,-2810),
    (242500,-2210,-2300,-2390,-2480,-2570,-2660,-2750),(245000,-2260,-2350,-2440,-2530,-2620,-2710,-2800,-2890),
    (247500,-2290,-2380,-2470,-2560,-2650,-2740,-2830),(250000,-2340,-2430,-2520,-2610,-2700,-2790,-2880,-2970),
    (252500,-2380,-2470,-2560,-2650,-2740,-2830,-2920),(255000,-2420,-2510,-2600,-2690,-2780,-2870,-2960,-3050),
    (257500,-2470,-2560,-2650,-2740,-2830,-2920,-3010,-3100),(260000,-2520,-2610,-2700,-2790,-2880,-2970,-3060),
    (262500,-2560,-2680,-2770,-2860,-2950,-3040,-3130,-3220),(265000,-2620,-2720,-2810,-2900,-2990,-3080,-3170),
    (267500,-2650,-2760,-2850,-2960,-3050,-3140,-3260),(270000,-2720,-2820,-2920,-3020,-3110,-3210,-3300),
    (272500,-2760,-2860,-2960,-3060,-3160,-3270,-3370),(275000,-2820,-2930,-3030,-3120,-3230,-3330),
    (277500,-2880,-2990,-3080,-3180,-3290,-3400),(280000,-2950,-3040,-3140,-3250,-3360,-3480),(282500,-3000,-3090,-3200,-3300,-3420),
    (285000,-3030,-3160,-3280,-3380,-3530),(287500,-3090,-3210,-3330,-3430,-3560),(290000,-3150,-3280,-3400,-3530,-3620),
    (292500,-3200,-3340,-3470,-3600),(295000,-3290,-3420,-3540,-3680),(297500,-3340,-3480,-3620,-3720),(300000,-3400,-3540,-3700),
    (302500,-3480,-3620,-3750),(305000,-3570,-3680,-3770),
]
b_top_teal_fill = [
    (206250,-1660,-1750,-1840,-1930,-2020),(208750,-1720,-1810,-1900,-1990,-2080),(211250,-1740,-1830,-1920,-2010,-2100),
    (213750,-1780,-1870,-1960,-2050,-2140),(216250,-1820,-1910,-2000,-2090,-2180,-2270),(218750,-1860,-1950,-2040,-2130,-2220,-2310),
    (221250,-1900,-1990,-2080,-2170,-2260,-2350),(223750,-1940,-2030,-2120,-2210,-2300,-2390,-2480),(226250,-1970,-2060,-2150,-2240,-2330,-2420,-2510),
    (228750,-2000,-2090,-2180,-2270,-2360,-2450,-2540),(231250,-2040,-2130,-2220,-2310,-2400,-2490,-2580,-2670),(233750,-2080,-2170,-2260,-2350,-2440,-2530,-2620),
    (236250,-2110,-2200,-2290,-2380,-2470,-2560,-2650),(238750,-2160,-2250,-2340,-2430,-2520,-2610,-2700,-2790),(241250,-2190,-2280,-2370,-2460,-2550,-2640,-2730),
    (243750,-2230,-2320,-2410,-2500,-2590,-2680,-2770,-2860),(246250,-2270,-2360,-2450,-2540,-2630,-2720,-2810),(248750,-2310,-2400,-2490,-2580,-2670,-2760,-2850,-2940),
    (251250,-2360,-2450,-2540,-2630,-2720,-2810,-2900),(253750,-2400,-2490,-2580,-2670,-2760,-2850,-2940,-3030),(256250,-2450,-2540,-2630,-2720,-2810,-2900,-2990),
    (258750,-2500,-2590,-2680,-2770,-2860,-2950,-3040),(261250,-2600,-2690,-2780,-2870,-2960,-3050,-3140),(263750,-2640,-2740,-2830,-2920,-3010,-3100,-3190),
    (266250,-2690,-2790,-2880,-2970,-3060,-3150,-3240),(268750,-2720,-2820,-2910,-3000,-3090,-3180),(271250,-2780,-2880,-2970,-3060,-3150,-3240,-3330),
    (273750,-2830,-2930,-3020,-3110,-3200,-3300),(276250,-2880,-2980,-3080,-3170,-3260,-3360),(278750,-2960,-3060,-3150,-3240,-3330,-3430),
    (281250,-3020,-3120,-3220,-3320,-3420),(283750,-3060,-3170,-3270,-3380,-3470),
    (196000,-1450,-1560,-1680,-1850),(199000,-1510,-1640,-1760,-1890,-2010),(201500,-1540,-1660,-1780,-1900,-2040),(204000,-1580,-1700,-1820,-1910,-2030,-2150),
    (206800,-1580,-2120,-2200),(209500,-1620,-2170,-2280),(212000,-1650,-2200,-2320),(215000,-1700,-2370),(218000,-1740,-2390),(221000,-1790,-2440),
    (224000,-1830,-2570),(227000,-1890,-2620),(230000,-1920,-2730),(233000,-1970,-2770),(236000,-2010,-2730,-2810),(239000,-2060,-2880),(242000,-2100,-2840,-2930),
    (245000,-2150,-2970),(248000,-2190,-2920,-3000),(251000,-2240,-2990,-3060),(254000,-2310,-3120),(257000,-2370,-3080,-3170),(260000,-2420,-3150,-3230),
    (263000,-2480,-3290),(266000,-2530,-3330),(269000,-2590,-3270,-3380),(272000,-2670,-3430),(275000,-2730,-3420,-3490),(278000,-2790,-3500),(281000,-2860,-3530,-3590),
    (284000,-2950,-3560,-3640),(286500,-3010,-3140,-3270,-3450,-3620),(289000,-3080,-3220,-3360,-3480,-3680),(291500,-3120,-3260,-3400,-3540,-3700),
    (294000,-3220,-3370,-3500,-3640),(296500,-3290,-3420,-3560,-3700),(299000,-3350,-3500,-3640,-3760),(302000,-3410,-3560,-3710),(304000,-3500,-3640,-3730),
]
b_top_orange_ring = [
    (62300,78),(70500,84),(78000,36),(96700,-273),(106700,-435),(116700,-646),(128000,-906),(135500,-1117),(139800,-1328),(139200,-1393),
    (134800,-1458),(129200,-1425),(121700,-1360),(110500,-1182),(98500,-1003),(88700,-825),(78000,-597),(70500,-403),(65500,-240),(62300,-78),
    (61100,36),(62300,78),
]
b_top_teal_ring = [
    (182100,-1461),(184700,-1384),(191200,-1351),(206100,-1477),(217800,-1628),(229500,-1795),(241200,-1928),(259400,-2245),(275000,-2563),
    (289200,-2913),(298300,-3130),(305500,-3381),(308100,-3548),(306800,-3681),(302900,-3748),(297000,-3731),(286600,-3581),(275000,-3447),
    (259400,-3264),(242500,-3030),(228200,-2780),(215200,-2529),(202200,-2212),(191800,-1928),(184700,-1678),(182700,-1561),(182100,-1461),
]
b_top_means = [(101450,-685), (244950,-2553)]

# panel B bottom, lifetime health care
b_bot_orange = [
    (48260,-1002),(53880,-1023),(53880,-1051),(58000,-1046),(59500,-1023),(63750,-1063),(65750,-1063),(56260,-1123),(54400,-1167),(58900,-1162),
    (101600,-1353),(131300,-1719),(143200,-1824),(144400,-1923),(146700,-1998),(146300,-2056),(139500,-2257),(140700,-2155),(129000,-2114),
    (129000,-2056),(122700,-2028),(112100,-1947),(109800,-1905),(94200,-1701),(96700,-1724),(104000,-1784),(151300,-2051),(155000,-2114),
    (157900,-2114),(158700,-2067),(163700,-2114),(165000,-2153),(170400,-2153),(152400,-2299),(157400,-2257),(165000,-2380),(166700,-2443),
    (164300,-2585),(136500,-2090),(142300,-2090),(138500,-2067),(134100,-2032),(125400,-2009),(118600,-1951),(87400,-1626),
    (60000,-1090,-1150),(62500,-1130,-1200),(65000,-1130,-1190,-1250),(67500,-1160,-1220,-1290),(70000,-1190,-1250,-1310,-1370),
    (72500,-1210,-1270,-1330,-1390),(75000,-1240,-1300,-1360,-1420,-1470),(77500,-1260,-1315,-1370,-1425,-1480),
    (80000,-1285,-1340,-1395,-1450,-1505),(82500,-1310,-1365,-1420,-1475,-1530),(85000,-1335,-1390,-1445,-1500,-1555,-1590),
    (87500,-1355,-1410,-1465,-1520,-1575,-1630),(90000,-1380,-1435,-1490,-1545,-1600),(92500,-1400,-1455,-1510,-1565,-1620,-1660),
    (95000,-1425,-1480,-1535,-1590,-1645),(97500,-1450,-1505,-1560,-1615,-1670),(100000,-1475,-1530,-1585,-1640,-1695,-1740),
    (102500,-1500,-1555,-1610,-1665,-1720),(105000,-1520,-1575,-1630,-1685,-1740,-1790),(107500,-1545,-1600,-1655,-1710,-1765,-1820),
    (110000,-1565,-1620,-1675,-1730,-1785,-1840),(112500,-1590,-1645,-1700,-1755,-1810,-1865),(115000,-1615,-1670,-1725,-1780,-1835,-1890),
    (117500,-1640,-1695,-1750,-1805,-1860,-1910),(120000,-1660,-1715,-1770,-1825,-1880,-1930),(122500,-1680,-1740,-1795,-1850,-1905,-1950),
    (125000,-1715,-1770,-1825,-1880,-1935,-1990),(127500,-1740,-1800,-1855,-1910,-1965),(130000,-1770,-1830,-1890,-1950,-2000),
    (132500,-1810,-1880,-1940,-2000),(135000,-1850,-1920,-1980,-2040),(137500,-1880,-1960,-2020,-2060),(140000,-1920,-1990,-2050,-2100),
    (142500,-1980,-2040,-2090),
]
b_bot_orange_fill = [
    (76250,-1280,-1340,-1395,-1450),(78750,-1300,-1355,-1410,-1465),(81250,-1320,-1375,-1430,-1485),(83750,-1345,-1400,-1455,-1510),
    (86250,-1365,-1420,-1475,-1530,-1585),(88750,-1385,-1440,-1495,-1550,-1605),(91250,-1410,-1465,-1520,-1575,-1630),
    (93750,-1430,-1485,-1540,-1595,-1650),(96250,-1455,-1510,-1565,-1620,-1675),(98750,-1480,-1535,-1590,-1645,-1700),
    (101250,-1505,-1560,-1615,-1670,-1725),(103750,-1530,-1585,-1640,-1695,-1750),(106250,-1550,-1605,-1660,-1715,-1770),
    (108750,-1575,-1630,-1685,-1740,-1795),(111250,-1600,-1655,-1710,-1765,-1820),(113750,-1625,-1680,-1735,-1790,-1845),
    (116250,-1650,-1705,-1760,-1815,-1870),(118750,-1670,-1725,-1780,-1835,-1890),(121250,-1690,-1745,-1800,-1855,-1910),
    (123750,-1720,-1775,-1830,-1885,-1940),(126250,-1750,-1805,-1860,-1915,-1970),(128750,-1780,-1835,-1890,-1945),
    (131250,-1820,-1880,-1935,-1990),(133750,-1860,-1920,-1975),
    (63500,-1150,-1210,-1280),(66000,-1170,-1240,-1310),(68500,-1170,-1235,-1300,-1350),(71000,-1200,-1260,-1320,-1390),(73500,-1220,-1280,-1350,-1420),
    (76000,-1240,-1510),(79000,-1260,-1540),(82000,-1290,-1580),(85000,-1310,-1620),(88000,-1330,-1650),(91000,-1355,-1680),(94000,-1380,-1710),
    (97000,-1410,-1740),(100000,-1440,-1780),(103000,-1470,-1810),(106000,-1490,-1840),(109000,-1530,-1880),(112000,-1560,-1910),(115000,-1590,-1940),
    (118000,-1615,-1960),(121000,-1650,-1990),(124000,-1680,-2020),(127000,-1710,-2050),(130000,-1740,-2060),(133000,-1790,-2080),
    (135500,-1830,-1890,-1950,-2010,-2080),(138000,-1860,-1930,-1990,-2050),(141000,-1950,-2020,-2080),
]
b_bot_teal = [
    (170500,-2466),(169200,-2524),(171000,-2504),(173100,-2484),(174150,-2670),(179100,-2524),(182700,-2524),(184700,-2441),(182100,-2567),
    (190900,-2587),(206400,-2650),(213200,-2771),(220700,-2791),(249800,-2874),(228700,-3552),(264700,-3247),(280100,-3408),(306900,-3615),
    (311500,-3675),(302500,-3738),(318000,-3882),(256600,-3962),(292000,-4186),(299500,-4395),(297600,-4091),(305600,-4191),(310000,-4209),
    (315000,-4249),(317000,-4154),(320500,-4209),(322400,-4154),(323700,-4103),(324300,-4061),(327300,-4043),(317400,-3982),(320300,-3982),
    (333700,-4169),(339600,-4212),(341600,-4191),(344700,-4149),(355200,-4229),(323000,-4335),(325200,-4312),(331700,-4395),(336700,-4783),
    (351600,-4723),(170400,-2462),(174100,-2480),(178500,-2666),(180400,-2670),(185500,-2775),(189100,-2786),
    (180000,-2630,-2700),(182500,-2640,-2700),(185000,-2660,-2720,-2850),(187500,-2680,-2760,-2870),(190000,-2700,-2790,-2900),
    (192500,-2690,-2780,-2860,-2960),(195000,-2690,-2800,-2880),(197500,-2730,-2830,-2920,-3010),(200000,-2750,-2830,-2920,-3030),
    (202500,-2780,-2850,-2940,-3060),(205000,-2800,-2880,-2960,-3080,-3140),(207500,-2830,-2890,-2950,-3010,-3070,-3160),
    (210000,-2870,-2930,-2990,-3050,-3110,-3190),(212500,-2900,-2960,-3020,-3080,-3140,-3220),(215000,-2930,-2990,-3050,-3110,-3170,-3240),
    (217500,-2950,-3010,-3070,-3130,-3190,-3260),(220000,-2980,-3040,-3100,-3160,-3220,-3280),(222500,-3010,-3065,-3120,-3175,-3230,-3310),
    (225000,-3030,-3085,-3140,-3195,-3250,-3320),(227500,-3050,-3105,-3160,-3215,-3270,-3340),(230000,-3070,-3125,-3180,-3235,-3290,-3345,-3400),
    (232500,-3100,-3155,-3210,-3265,-3320,-3375,-3430),(235000,-3120,-3175,-3230,-3285,-3340,-3395),(237500,-3140,-3195,-3250,-3305,-3360,-3415,-3470),
    (240000,-3160,-3215,-3270,-3325,-3380,-3435,-3500),(242500,-3190,-3245,-3300,-3355,-3410,-3465),(245000,-3210,-3265,-3320,-3375,-3430,-3485,-3540),
    (247500,-3240,-3295,-3350,-3405,-3460,-3515),(250000,-3260,-3315,-3370,-3425,-3480,-3535,-3590),(252500,-3280,-3335,-3390,-3445,-3500,-3555,-3610),
    (255000,-3300,-3355,-3410,-3465,-3520,-3575,-3630),(257500,-3330,-3385,-3440,-3495,-3550,-3605,-3660),(260000,-3370,-3425,-3480,-3535,-3590,-3645),
    (262500,-3400,-3455,-3510,-3565,-3620,-3675,-3720),(265000,-3420,-3475,-3530,-3585,-3640,-3695,-3750),(267500,-3450,-3505,-3560,-3615,-3670,-3725),
    (270000,-3470,-3525,-3580,-3635,-3690,-3745,-3800),(272500,-3500,-3555,-3610,-3665,-3720,-3775,-3830),(275000,-3530,-3585,-3640,-3695,-3750,-3800,-3850),
    (277500,-3570,-3625,-3680,-3735,-3790,-3845),(280000,-3600,-3655,-3710,-3765,-3820,-3875,-3930),(282500,-3630,-3685,-3740,-3795,-3850,-3905),
    (285000,-3660,-3715,-3770,-3825,-3880,-3940),(287500,-3680,-3740,-3800,-3860,-3920),(290000,-3730,-3810,-3870,-3930,-3990),
    (292500,-3760,-3840,-3900,-3960),(295000,-3790,-3870,-3930,-3990,-4050),(297500,-3830,-3900,-3970,-4040),(300000,-3870,-3940,-4010,-4060),
    (302500,-3890,-3960,-4030,-4090),(305000,-3930,-3990,-4060),(307500,-3970,-4030,-4090),(310000,-4000,-4060,-4100),(312500,-4030,-4070),
    (315000,-4000,-4050,-4120),
]
b_bot_teal_fill = [
    (208750,-2880,-2940,-3000,-3060,-3120),(211250,-2905,-2965,-3025,-3085,-3145),(213750,-2935,-2995,-3055,-3115,-3175),
    (216250,-2960,-3020,-3080,-3140,-3200),(218750,-2985,-3045,-3105,-3165,-3225),(221250,-3015,-3070,-3125,-3180,-3235),
    (223750,-3035,-3090,-3145,-3200,-3255),(226250,-3060,-3115,-3170,-3225,-3280),(228750,-3080,-3135,-3190,-3245,-3300,-3355),
    (231250,-3105,-3160,-3215,-3270,-3325,-3380),(233750,-3125,-3180,-3235,-3290,-3345,-3400),(236250,-3150,-3205,-3260,-3315,-3370,-3425),
    (238750,-3170,-3225,-3280,-3335,-3390,-3445),(241250,-3195,-3250,-3305,-3360,-3415,-3470),(243750,-3215,-3270,-3325,-3380,-3435,-3490),
    (246250,-3240,-3295,-3350,-3405,-3460,-3515),(248750,-3265,-3320,-3375,-3430,-3485,-3540),(251250,-3285,-3340,-3395,-3450,-3505,-3560),
    (253750,-3310,-3365,-3420,-3475,-3530,-3585),(256250,-3340,-3395,-3450,-3505,-3560,-3615),(258750,-3370,-3425,-3480,-3535,-3590,-3645),
    (261250,-3400,-3455,-3510,-3565,-3620,-3675),(263750,-3430,-3485,-3540,-3595,-3650,-3705),(266250,-3455,-3510,-3565,-3620,-3675,-3730),
    (268750,-3480,-3535,-3590,-3645,-3700,-3755),(271250,-3510,-3565,-3620,-3675,-3730,-3785),(273750,-3540,-3595,-3650,-3705,-3760,-3815),
    (276250,-3570,-3625,-3680,-3735,-3790),(278750,-3600,-3655,-3710,-3765,-3820,-3875),(281250,-3630,-3685,-3740,-3795,-3850),
    (184000,-2700,-2790),(186500,-2690,-2800,-2900),(189000,-2710,-2840,-2930),(191500,-2740,-2830,-2930),(194000,-2720,-2830,-2930,-3020),(196500,-2760,-2850,-2960,-3040),
    (199000,-2790,-2880,-2970,-3060),(201500,-2800,-2890,-2990,-3100),(204000,-2820,-2920,-3030,-3130),(206500,-2840,-2920,-2990,-3050,-3120,-3190),(209000,-2850,-3170,-3230),
    (212000,-2880,-3200,-3270),(215000,-2910,-3220,-3300),(218000,-2930,-3270,-3340),(221000,-2960,-3290,-3370),(224000,-3000,-3310,-3400),(227000,-3020,-3340,-3430),
    (284000,-3690,-3745,-3800,-3855,-3910),(286500,-3700,-3760,-3820,-3880,-3950),(289000,-3720,-3780,-3840,-3900,-3970),(291500,-3740,-3800,-3860,-3930,-4000),
    (294000,-3790,-3850,-3910,-3970,-4030),(296500,-3810,-3870,-3940,-4010),(299000,-3840,-3900,-3980,-4040),(301500,-3880,-3940,-4000,-4070),(304000,-3910,-3970,-4040),
    (307000,-3950,-4010,-4070),(238000,-3520),(242000,-3530),(246000,-3570),(250000,-3610),(254000,-3640),(258000,-3690),(262000,-3730),(266000,-3780),(270000,-3820),
    (274000,-3860),(278000,-3900),(282000,-3930),(236000,-3110),(240000,-3140),(244000,-3170),(248000,-3200),(252000,-3240),(256000,-3270),(260000,-3320),(264000,-3350),
    (268000,-3390),(272000,-3440),(276000,-3470),(280000,-3530),
]
b_bot_orange_ring = [
    (59250,-1128),(66750,-1151),(78000,-1244),(94200,-1360),(106700,-1510),(118000,-1626),(131700,-1812),(141700,-1940),(144200,-2044),(141700,-2102),
    (132900,-2009),(121700,-1916),(109200,-1835),(99200,-1719),(84200,-1580),(74900,-1452),(66750,-1325),(61750,-1232),(59250,-1162),(59250,-1128),
]
b_bot_teal_ring = [
    (178600,-2667),(187300,-2667),(196400,-2705),(207400,-2793),(217800,-2856),(228200,-2957),(241200,-3071),(254200,-3184),(267200,-3335),(280100,-3486),
    (293100,-3612),(308100,-3826),(314600,-3952),(316800,-4053),(314600,-4091),(310000,-4103),(300900,-4053),(288000,-3952),(273700,-3839),(259400,-3675),
    (243800,-3549),(228200,-3423),(217800,-3297),(206100,-3184),(199600,-3083),(193800,-3028),(187300,-2932),(182100,-2831),(178800,-2718),(178600,-2667),
]
b_bot_means = [(101970,-1587), (248190,-3378)]

# axes ticks
a_xticks = [5000, 10000, 15000, 20000, 25000, 30000]
a_xlabels = ["5000", "10\u2009000", "15\u2009000", "20\u2009000", "25\u2009000", "30\u2009000"]
b_xticks = [50000, 100000, 150000, 200000, 250000, 300000, 350000]
b_xlabels = ["50\u2009000", "100\u2009000", "150\u2009000", "200\u2009000", "250\u2009000", "300\u2009000", "350\u2009000"]
a_top_yticks = [0, 400, 800, 1200, 1600, 2000]
a_top_ylabels = ["0", "400", "800", "1200", "1600", "1800"]
a_bot_yticks = [0, -300, -600, -900, -1200]
a_bot_ylabels = ["0", "-300", "-600", "-900", "-1200"]
b_top_yticks = [1000, 0, -1000, -2000, -3000, -4000, -5000, -6000]
b_top_ylabels = ["1000", "0", "-1000", "-2000", "-3000", "-4000", "-5000", "-6000"]
b_bot_yticks = [0, -1000, -2000, -3000, -4000, -5000]
b_bot_ylabels = ["0", "-1000", "-2000", "-3000", "-4000", "-5000"]

W, H = 3892, 2617
FONT = "DejaVu Sans Condensed, DejaVu Sans"
FS = 46


def expand(rows):
    xs, ys = [], []
    for row in rows:
        for y in row[1:]:
            xs.append(row[0])
            ys.append(y)
    return xs, ys


def add_panel(fig, n, orange, teal, orange_ring, teal_ring, means):
    ax = dict(xaxis="x" if n == 1 else f"x{n}", yaxis="y" if n == 1 else f"y{n}", showlegend=False, hoverinfo="skip")
    for rows, ring, color in ((orange, orange_ring, ORANGE), (teal, teal_ring, TEAL)):
        xs, ys = expand(rows)
        fig.add_trace(go.Scatter(x=xs, y=ys, mode="markers", marker=dict(color=color, size=13.5), **ax))
        rx, ry = expand(ring)
        fig.add_trace(go.Scatter(x=rx, y=ry, mode="lines", line=dict(color=color, width=6), **ax))
    mx, my = expand(means)
    fig.add_trace(go.Scatter(x=mx, y=my, mode="markers", marker=dict(color="black", size=12), **ax))


fig = go.Figure()
add_panel(fig, 1, a_top_orange + a_top_orange_fill, a_top_teal + a_top_teal_fill, a_top_orange_ring, a_top_teal_ring, a_top_means)
fig.add_trace(go.Scatter(x=a_top_line_x, y=a_top_line_y, mode="lines", line=dict(color="black", width=4),
                         showlegend=False, hoverinfo="skip"))
add_panel(fig, 2, a_bot_orange + a_bot_orange_fill, a_bot_teal + a_bot_teal_fill, a_bot_orange_ring, a_bot_teal_ring, a_bot_means)
add_panel(fig, 3, b_top_orange + b_top_orange_fill, b_top_teal + b_top_teal_fill, b_top_orange_ring, b_top_teal_ring, b_top_means)
add_panel(fig, 4, b_bot_orange + b_bot_orange_fill, b_bot_teal + b_bot_teal_fill, b_bot_orange_ring, b_bot_teal_ring, b_bot_means)


def xax(left, right, rng, ticks, labels):
    return dict(domain=[left / W, right / W], range=rng, tickvals=ticks, ticktext=labels, showgrid=False, zeroline=False,
                showline=True, linecolor="black", linewidth=3, ticks="outside", ticklen=17, tickwidth=2, tickcolor="black",
                tickfont=dict(family=FONT, size=FS, color="black"), automargin=False, ticklabelstandoff=-7,
                title=dict(text="Quality-adjusted life-years", font=dict(family=FONT, size=50, color="black"), standoff=37))


def yax(top, bottom, rng, ticks, labels, title, anchor, standoff):
    return dict(domain=[1 - bottom / H, 1 - top / H], range=rng, tickvals=ticks, ticktext=labels, anchor=anchor,
                showgrid=True, gridcolor="#D9D9D9", gridwidth=5, zeroline=False, showline=True, linecolor="black", linewidth=3,
                ticks="outside", ticklen=17, tickwidth=2, tickcolor="black", automargin=False, ticklabelstandoff=-5,
                tickfont=dict(family=FONT, size=FS, color="black"),
                title=dict(text=title, font=dict(family=FONT, size=49, color="black"), standoff=standoff))


def note(text, x, y, size=44.5, anchor="left", weight=None):
    return dict(text=f"<b>{text}</b>" if weight else text, x=x / W, y=1 - y / H, xref="paper", yref="paper", showarrow=False,
                xanchor=anchor, yanchor="middle", font=dict(family=FONT, size=size, color="black"))


CB = "Consumer behavior"
CBI = "Consumer behavior + industry response"
notes = [
    note("A", 37, 89, size=46, anchor="center", weight=True), note("12 Years", 104, 89, size=49),
    note("B", 2037, 89, size=46, anchor="center", weight=True), note("Lifetime", 2101, 89, size=49),
    note(CB, 265, 822), note(CB, 263, 1886), note(CB, 2254, 583), note(CB, 2254, 1940),
    note(CBI, 1826, 1016, anchor="right"), note(CBI, 1739, 2353, anchor="right"),
    note(CBI, 3644, 987, anchor="right"), note(CBI, 3614, 2345, anchor="right"),
]
boxes = [dict(type="rect", xref="paper", yref="paper", x0=x0 / W, x1=x1 / W, y0=1 - 126 / H, y1=1 - 52 / H,
              line=dict(color="black", width=2.5)) for x0, x1 in ((1, 74), (2001, 2074))]

fig.update_layout(
    width=W, height=H, margin=dict(l=0, r=0, t=0, b=0), paper_bgcolor="white", plot_bgcolor="white",
    showlegend=False, annotations=notes, shapes=boxes,
    xaxis=xax(224.5, 1873.6, [3425, 31118], a_xticks, a_xlabels),
    yaxis=yax(194.3, 1156.6, [0, 2000], a_top_yticks, a_top_ylabels, "Societal perspective, net cost ($ million)", "x", 36),
    xaxis2=dict(xax(224.5, 1873.6, [4373, 31524], a_xticks, a_xlabels), anchor="y2"),
    yaxis2=yax(1450.9, 2412.8, [-1200, 0], a_bot_yticks, a_bot_ylabels, "Health care perspective, net cost ($ million)", "x2", 36),
    xaxis3=dict(xax(2241, 3890, [44008, 366850], b_xticks, b_xlabels), anchor="y3"),
    yaxis3=yax(194.3, 1156.8, [-6000, 1000], b_top_yticks, b_top_ylabels, "Net costs ($ million)", "x3", 30),
    xaxis4=dict(xax(2241, 3890, [44008, 366850], b_xticks, b_xlabels), anchor="y4"),
    yaxis4=yax(1450.8, 2412.8, [-5000, 0], b_bot_yticks, b_bot_ylabels, "Net costs ($ million)", "x4", 30),
)

# the page's default body margin would push the figure 8 px off the canvas
fig.write_html("out.html", config={"displayModeBar": False}, post_script="document.body.style.margin='0';")
